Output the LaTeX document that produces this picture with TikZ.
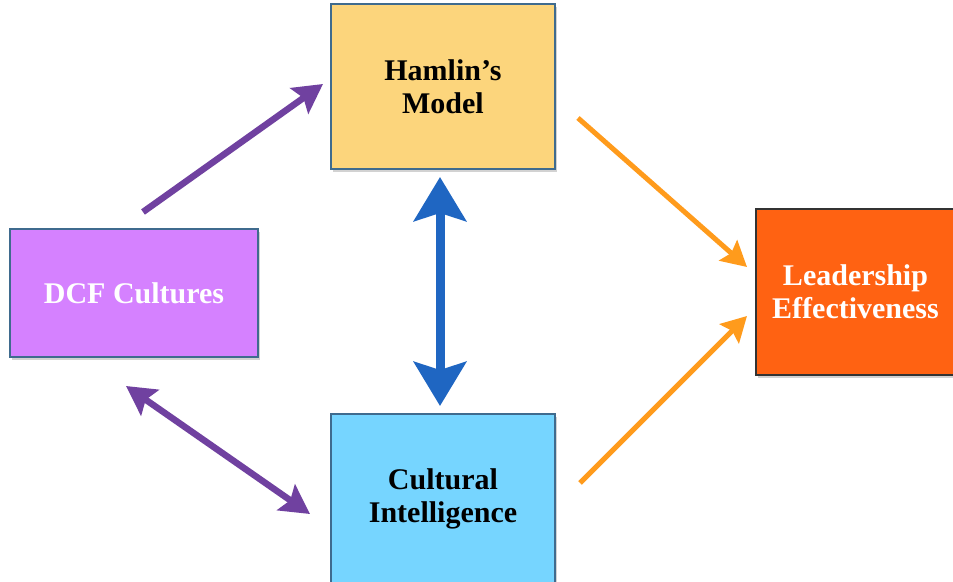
\documentclass[tikz,border=0pt]{standalone}
\usepackage{fontspec}
\setmainfont{Liberation Serif}
\usetikzlibrary{arrows.meta,shadows}
\definecolor{boxline}{HTML}{3F6B8E}
\definecolor{hamlinfill}{HTML}{FCD57C}
\definecolor{dcffill}{HTML}{D581FF}
\definecolor{leadfill}{HTML}{FF6212}
\definecolor{culturefill}{HTML}{76D5FF}
\definecolor{purplearrow}{HTML}{7041A0}
\definecolor{orangearrow}{HTML}{FF9B1C}
\definecolor{bluearrow}{HTML}{1F66C2}
\begin{document}
\begin{tikzpicture}[x=1pt,y=-1pt,
  box/.style={draw=boxline, line width=1.3pt, align=center, inner sep=0pt,
    font=\bfseries\fontsize{30}{33}\selectfont,
    drop shadow={shadow xshift=2pt, shadow yshift=-3pt, opacity=0.35}},
  purplehead/.tip={Stealth[length=29pt,width=31pt,inset=5pt]},
  orangehead/.tip={Stealth[length=25pt,width=27pt,inset=4pt]},
  bluehead/.tip={Stealth[length=44pt,width=52pt,inset=8pt]},
  purplearr/.style={draw=purplearrow, line width=6.5pt},
  orangearr/.style={draw=orangearrow, line width=5pt, -orangehead},
  bluearr/.style={draw=bluearrow, line width=9pt, bluehead-bluehead}
]
\useasboundingbox (0,0) rectangle (953,581);
\fill[white] (0,0) rectangle (953,581);

\node[box, fill=hamlinfill, minimum width=224pt, minimum height=165pt] (hamlin) at (443,86.5) {Hamlin’s\\Model};
\node[box, fill=dcffill, text=white, minimum width=248pt, minimum height=128pt] (dcf) at (134,293) {DCF Cultures};
\node[box, draw=black!80, fill=leadfill, text=white, minimum width=199pt, minimum height=166pt] (lead) at (855.5,292) {Leadership\\Effectiveness};
\node[box, fill=culturefill, minimum width=224pt, minimum height=169pt] (culture) at (443,498.5) {Cultural\\Intelligence};

% connector end points
\coordinate (pA1) at (143,212);
\coordinate (pA2) at (323,84);
\coordinate (pB1) at (126,386);
\coordinate (pB2) at (310,514);
\coordinate (bA) at (440,177);
\coordinate (bB) at (440,406);
\coordinate (oA1) at (578,118);
\coordinate (oA2) at (747,267);
\coordinate (oB1) at (580,483);
\coordinate (oB2) at (747,316);

\draw[purplearr, -purplehead] (pA1) -- (pA2);
\draw[purplearr, purplehead-purplehead] (pB1) -- (pB2);
\draw[bluearr] (bA) -- (bB);
\draw[orangearr] (oA1) -- (oA2);
\draw[orangearr] (oB1) -- (oB2);
\end{tikzpicture}
\end{document}
